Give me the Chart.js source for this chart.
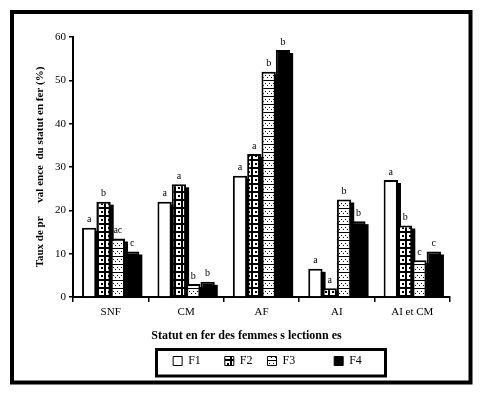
<!DOCTYPE html>
<html>
<head>
<meta charset="utf-8">
<script src="https://cdn.jsdelivr.net/npm/chart.js@4.4.0/dist/chart.umd.min.js"></script>
<style>
  html, body { margin: 0; padding: 0; background: #fff; }
  #wrap { position: relative; width: 481px; height: 396px; }
</style>
</head>
<body>
<div id="wrap"><canvas id="chart" width="481" height="396"></canvas></div>
<script>
const categories = ['SNF', 'CM', 'AF', 'AI', 'AI et CM'];
const seriesNames = ['F1', 'F2', 'F3', 'F4'];
const f1 = [16, 22, 28, 6.5, 27];
const f2 = [22, 26, 33, 2, 16.5];
const f3 = [13.5, 3, 52, 22.5, 8.5];
const f4 = [10.5, 3.5, 57, 17.5, 10.5];
const letters = [
  ['a', 'a', 'a', 'a', 'a'],
  ['b', 'a', 'a', 'a', 'b'],
  ['ac', 'b', 'b', 'b', 'c'],
  ['c', 'b', 'b', 'b', 'c'],
];
const yTicks = [0, 10, 20, 30, 40, 50, 60];

const serif = '"Liberation Serif", "DejaVu Serif", serif';

function makeTile(w, h, draw) {
  const c = document.createElement('canvas');
  c.width = w; c.height = h;
  draw(c.getContext('2d'));
  return document.getElementById('chart').getContext('2d').createPattern(c, 'repeat');
}

// checkered fill for F2
const checker = makeTile(7, 8, (g) => {
  g.fillStyle = '#000'; g.fillRect(0, 0, 7, 8);
  g.fillStyle = '#fff'; g.fillRect(1, 1, 5, 6);
  g.fillStyle = '#000'; g.fillRect(3, 3, 2, 2);
});
// dotted fill for F3
const dotted = makeTile(8, 8, (g) => {
  g.fillStyle = '#fff'; g.fillRect(0, 0, 8, 8);
  g.fillStyle = '#000'; g.fillRect(0, 0, 8, 1);
  g.fillRect(1, 3, 1, 1); g.fillRect(5, 3, 1, 1);
  g.fillRect(3, 5, 1, 1); g.fillRect(7, 5, 1, 1);
});

const fills = ['#fff', checker, dotted, '#000'];
const values = [f1, f2, f3, f4];

const framePlugin = {
  id: 'frame',
  afterLayout(chart) {
    // nudge legend a bit right, like the original
    chart.legend.left += 6;
    chart.legend.right += 6;
  },
  beforeDatasetsDraw(chart) {
    const ctx = chart.ctx;
    const base = chart.scales.y.getPixelForValue(0);
    ctx.save();
    ctx.fillStyle = '#000';
    chart.data.datasets.forEach((ds, i) => {
      chart.getDatasetMeta(i).data.forEach((bar) => {
        const w = bar.width;
        ctx.fillRect(bar.x - w / 2 + 3, bar.y + 3, w, base - bar.y - 3);
      });
    });
    ctx.restore();
  },
  afterDatasetsDraw(chart) {
    const ctx = chart.ctx;
    ctx.save();
    ctx.fillStyle = '#000';
    ctx.font = '10px ' + serif;
    ctx.textAlign = 'center';
    ctx.textBaseline = 'bottom';
    chart.data.datasets.forEach((ds, i) => {
      chart.getDatasetMeta(i).data.forEach((bar, j) => {
        ctx.fillText(letters[i][j], bar.x, bar.y - 3);
      });
    });
    ctx.restore();
  },
  afterDraw(chart) {
    const ctx = chart.ctx;
    ctx.save();
    ctx.strokeStyle = '#000';
    ctx.lineWidth = 3;
    ctx.strokeRect(156.5, 349.5, 229, 26.5);
    ctx.lineWidth = 4;
    ctx.strokeRect(12, 12, 458.5, 370.5);
    ctx.restore();
  }
};

new Chart(document.getElementById('chart'), {
  type: 'bar',
  data: {
    labels: categories,
    datasets: seriesNames.map((name, i) => ({
      label: name,
      data: values[i],
      backgroundColor: fills[i],
      borderColor: '#000',
      borderWidth: 2,
      borderSkipped: 'bottom',
    })),
  },
  plugins: [framePlugin],
  options: {
    responsive: false,
    animation: false,
    categoryPercentage: 0.76,
    barPercentage: 1.0,
    layout: { padding: { left: 20, right: 31, top: 37, bottom: 19 } },
    plugins: {
      tooltip: { enabled: false },
      legend: {
        position: 'bottom',
        fullSize: false,
        labels: {
          color: '#000',
          font: { family: serif, size: 12 },
          boxWidth: 9,
          boxHeight: 9,
          padding: 12,
          generateLabels(chart) {
            const pads = ['    ', ' ', '         ', ''];
            return chart.data.datasets.map((ds, i) => ({
              text: ds.label + pads[i],
              fillStyle: fills[i],
              strokeStyle: '#000',
              lineWidth: 1,
              datasetIndex: i,
              fontColor: '#000',
            }));
          },
        },
      },
    },
    scales: {
      x: {
        afterFit(scale) { scale.height = 46; },
        grid: { drawOnChartArea: false, color: '#000', tickLength: 5, lineWidth: 1.5, offset: true },
        border: { color: '#000', width: 2 },
        ticks: { color: '#000', font: { family: serif, size: 11 }, padding: 4 },
        title: {
          display: true,
          text: 'Statut en fer des femmes s lectionn es          ',
          color: '#000',
          font: { family: serif, size: 12, weight: 'bold' },
          padding: { top: 1, bottom: 0 },
        },
      },
      y: {
        min: 0,
        max: 60,
        afterFit(scale) { scale.width = 53; },
        afterBuildTicks(scale) { scale.ticks = yTicks.map(v => ({ value: v })); },
        grid: { drawOnChartArea: false, color: '#000', tickLength: 4, lineWidth: 1.5 },
        border: { color: '#000', width: 2 },
        ticks: { color: '#000', font: { family: serif, size: 11 }, padding: 3 },
        title: {
          display: true,
          text: 'Taux de pr     val ence  du statut en fer (%)',
          color: '#000',
          font: { family: serif, size: 11, weight: 'bold' },
          padding: { top: 14, bottom: 0 },
        },
      },
    },
  },
});
</script>
</body>
</html>
